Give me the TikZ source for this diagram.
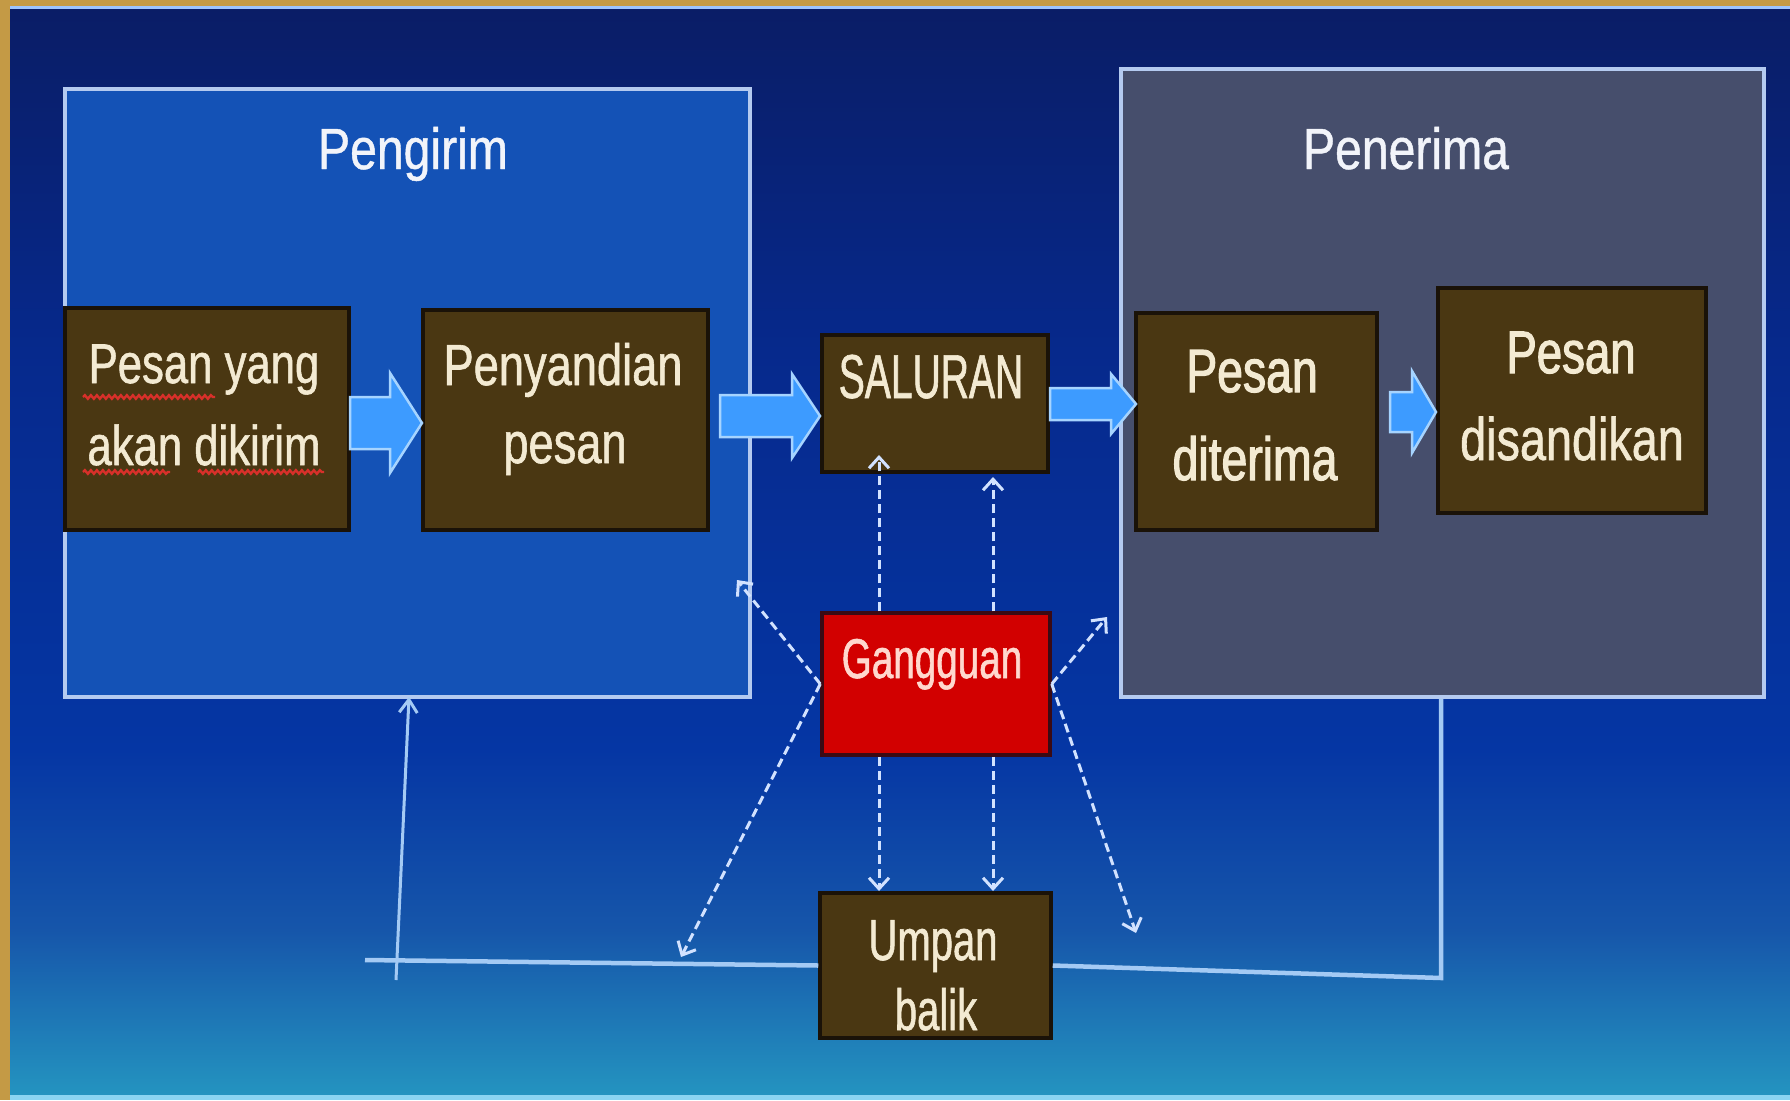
\documentclass[tikz,border=0pt]{standalone}
\usepackage{fontspec}
\setmainfont{Liberation Sans}
\newfontfamily\fH[FakeStretch=0.83,FakeBold=0.8]{Liberation Sans}
\newfontfamily\fA[FakeStretch=0.78,FakeBold=1.0]{Liberation Sans}
\newfontfamily\fAb[FakeStretch=0.76,FakeBold=1.8]{Liberation Sans}
\newfontfamily\fB[FakeStretch=0.69,FakeBold=1.0]{Liberation Sans}
\newfontfamily\fC[FakeStretch=0.63,FakeBold=1.0]{Liberation Sans}
\usetikzlibrary{arrows.meta,decorations.pathmorphing,calc}
\definecolor{gold}{HTML}{C49A45}
\definecolor{bg0}{HTML}{0A1D66}
\definecolor{bg1}{HTML}{06298C}
\definecolor{bg2}{HTML}{0536A4}
\definecolor{bg3}{HTML}{1656AA}
\definecolor{bg4}{HTML}{2494C0}
\definecolor{rimtop}{HTML}{9CC4FF}
\definecolor{rimbot}{HTML}{8AD4F2}
\definecolor{pengfill}{HTML}{1452B6}
\definecolor{penfill}{HTML}{464E6C}
\definecolor{boxrim}{HTML}{B4CAF0}
\definecolor{brown}{HTML}{4A3712}
\definecolor{brownrim}{HTML}{1A1208}
\definecolor{gred}{HTML}{D20000}
\definecolor{gredrim}{HTML}{3A0A14}
\definecolor{cream}{HTML}{F3EAD2}
\definecolor{pinkw}{HTML}{FFD8CE}
\definecolor{headw}{HTML}{F2F4FA}
\definecolor{arrfill}{HTML}{3D9BFF}
\definecolor{arrrim}{HTML}{A6D4FF}
\definecolor{dashc}{HTML}{D2E2FF}
\definecolor{fbc}{HTML}{A4CAF4}
\definecolor{squig}{HTML}{D8302A}
\tikzset{
  group/.style={draw=boxrim, line width=4pt, inner sep=0pt},
  brownbox/.style={draw=brownrim, fill=brown, line width=3.5pt, inner sep=0pt},
  redbox/.style={draw=gredrim, fill=gred, line width=3.5pt, inner sep=0pt},
  txt/.style={inner sep=0pt, anchor=base, text=cream},
  blockarrow/.style={fill=arrfill, draw=arrrim, line width=2.5pt, line join=miter},
  noise/.style={draw=dashc, line width=3pt, dash pattern=on 9pt off 5pt,
    -{Straight Barb[length=11pt,width=20pt]}},
  feedback/.style={draw=fbc, line width=4.5pt},
  feedtip/.style={draw=fbc, line width=3pt, -{Straight Barb[length=13pt,width=18pt]}},
  squiggle/.style={draw=squig, line width=2.4pt, decorate,
    decoration={snake, amplitude=1.8pt, segment length=6pt}}
}
\begin{document}
\begin{tikzpicture}[x=1pt, y=-1pt]
\useasboundingbox (0,0) rectangle (1790,1100);
% frame and background
\fill[gold] (0,0) rectangle (1790,1100);
\shade[top color=bg0, bottom color=bg1] (10,7) rectangle (1790,351);
\shade[top color=bg1, bottom color=bg2] (10,350) rectangle (1790,751);
\shade[top color=bg2, bottom color=bg3] (10,750) rectangle (1790,931);
\shade[top color=bg3, bottom color=bg4] (10,930) rectangle (1790,1096);
\fill[rimtop] (10,6) rectangle (1790,9);
\fill[rimbot] (10,1095) rectangle (1790,1100);

% groups
\node[group, fill=pengfill, minimum width=685pt, minimum height=608pt] (peng) at (407.5,393) {};
\node[group, fill=penfill, minimum width=643pt, minimum height=628pt] (pen) at (1442.5,383) {};
\node[txt, text=headw, font=\fH\fontsize{58}{60}\selectfont] (pengT) at (413,169) {Pengirim};
\node[txt, text=headw, font=\fH\fontsize{58}{60}\selectfont] (penT) at (1406,169) {Penerima};

% feedback loop
\coordinate (fbR) at (1441,978);
\coordinate (fbL) at (365,960);
\coordinate (fbUp) at (396,980);
\coordinate (fbTip) at (409,697);

% boxes
\node[brownbox, minimum width=284pt, minimum height=222pt] (pesan) at (207,419) {};
\node[brownbox, minimum width=285pt, minimum height=220pt] (sandi) at (565.5,420) {};
\node[brownbox, minimum width=226pt, minimum height=137pt] (sal) at (935,403.5) {};
\node[brownbox, minimum width=241pt, minimum height=217pt] (terima) at (1256.5,421.5) {};
\node[brownbox, minimum width=268pt, minimum height=225pt] (disandi) at (1572,400.5) {};
\node[redbox, minimum width=228pt, minimum height=142pt] (gang) at (936,684) {};
\node[brownbox, minimum width=231pt, minimum height=145pt] (umpan) at (935.5,965.5) {};

\draw[feedback] (pen.south -| fbR) -- (fbR) -- (umpan.east);
\draw[feedback] (umpan.west) -- (fbL);
\draw[feedtip] (fbUp) -- (fbTip);

% block arrows
\draw[blockarrow] (350,397) -- (390,397) -- (390,373) -- (422,423) -- (390,473) -- (390,449) -- (350,449) -- cycle;
\draw[blockarrow] (720,395) -- (792,395) -- (792,374) -- (820,416) -- (792,458) -- (792,437) -- (720,437) -- cycle;
\draw[blockarrow] (1050,388) -- (1111,388) -- (1111,374) -- (1136,404) -- (1111,434) -- (1111,420) -- (1050,420) -- cycle;
\draw[blockarrow] (1390,392) -- (1412,392) -- (1412,371) -- (1436,412) -- (1412,453) -- (1412,432) -- (1390,432) -- cycle;

% noise arrows
\coordinate (nSalL) at (879,455);
\coordinate (nSalR) at (993,477);
\coordinate (nUmpL) at (879,891);
\coordinate (nUmpR) at (993,891);
\coordinate (nUL) at (737,580);
\coordinate (nUR) at (1107,617);
\coordinate (nDL) at (681,957);
\coordinate (nDR) at (1136,933);
\draw[noise] ([xshift=-57pt]gang.north) -- (nSalL);
\draw[noise] ([xshift=57pt]gang.north) -- (nSalR);
\draw[noise] ([xshift=-57pt]gang.south) -- (nUmpL);
\draw[noise] ([xshift=57pt]gang.south) -- (nUmpR);
\draw[noise] (gang.west) -- (nUL);
\draw[noise] (gang.east) -- (nUR);
\draw[noise] (gang.west) -- (nDL);
\draw[noise] (gang.east) -- (nDR);

% texts
\node[txt, font=\fA\fontsize{56}{60}\selectfont] (pesanA) at (204,383) {Pesan yang};
\node[txt, font=\fA\fontsize{56}{60}\selectfont] (pesanB) at (204,465) {akan dikirim};
\draw[squiggle] (83,397) -- (215,397);
\draw[squiggle] (83,472) -- (170,472);
\draw[squiggle] (198,472) -- (324,472);
\node[txt, font=\fA\fontsize{58}{60}\selectfont] (sandiA) at (563,385) {Penyandian};
\node[txt, font=\fA\fontsize{58}{60}\selectfont] (sandiB) at (565,463) {pesan};
\node[txt, font=\fC\fontsize{62}{64}\selectfont] (salT) at (931,398) {SALURAN};
\node[txt, font=\fAb\fontsize{61}{64}\selectfont] (terimaA) at (1252,392) {Pesan};
\node[txt, font=\fAb\fontsize{61}{64}\selectfont] (terimaB) at (1255,480) {diterima};
\node[txt, font=\fAb\fontsize{60}{64}\selectfont] (disA) at (1571,373) {Pesan};
\node[txt, font=\fA\fontsize{60}{64}\selectfont] (disB) at (1572,460) {disandikan};
\node[txt, text=pinkw, font=\fB\fontsize{56}{60}\selectfont] (gangT) at (932,678) {Gangguan};
\node[txt, font=\fB\fontsize{58}{60}\selectfont] (umpA) at (933,960) {Umpan};
\node[txt, font=\fB\fontsize{58}{60}\selectfont] (umpB) at (936,1030) {balik};
\end{tikzpicture}
\end{document}
